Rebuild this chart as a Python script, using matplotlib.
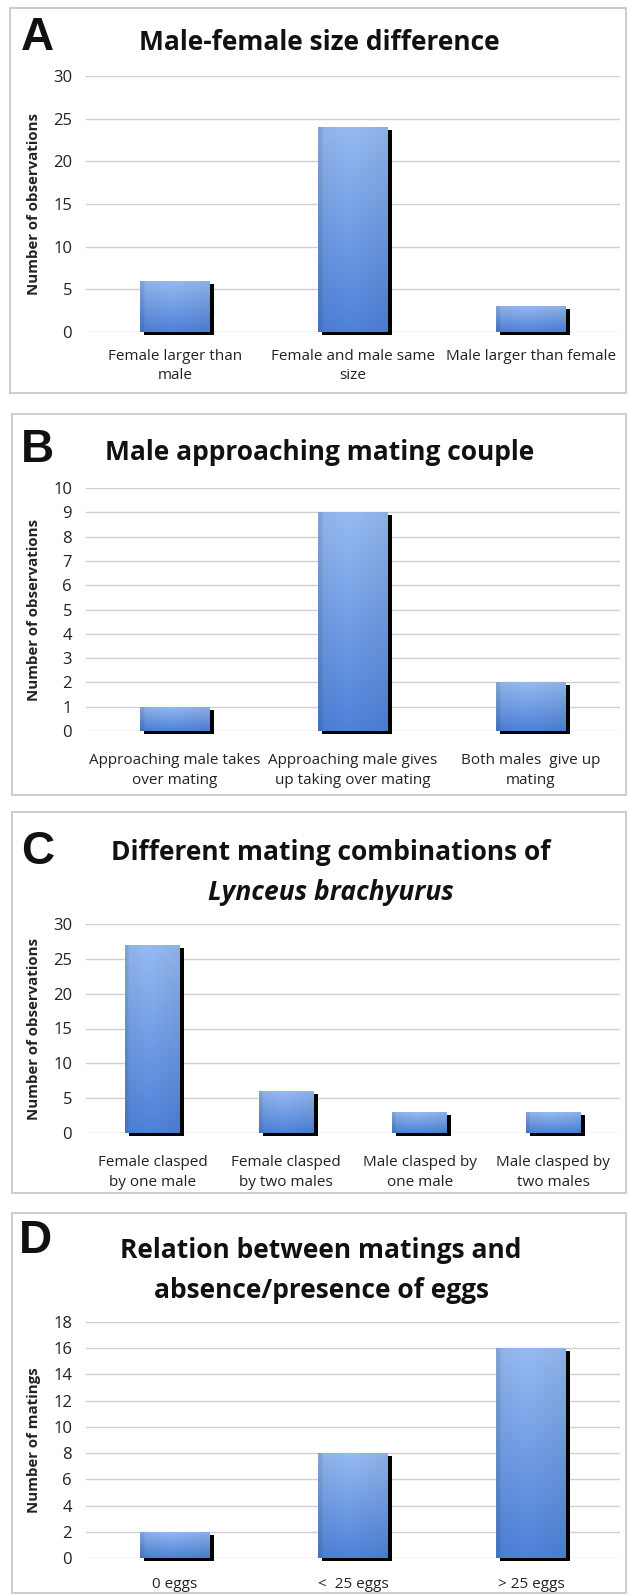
import numpy as np
import matplotlib
matplotlib.use("Agg")
import matplotlib.pyplot as plt
from matplotlib.patches import Rectangle
from matplotlib import transforms

# ---------------- data ----------------
a_title = "Male-female size difference"
a_cats = ["Female larger than\nmale", "Female and male same\nsize", "Male larger than female"]
a_vals = [6, 24, 3]
a_ticks = [0, 5, 10, 15, 20, 25, 30]
a_ylabel = "Number of observations"

b_title = "Male approaching mating couple"
b_cats = ["Approaching male takes\nover mating", "Approaching male gives\nup taking over mating",
          "Both males  give up\nmating"]
b_vals = [1, 9, 2]
b_ticks = [0, 1, 2, 3, 4, 5, 6, 7, 8, 9, 10]
b_ylabel = "Number of observations"

c_title1 = "Different mating combinations of"
c_title2 = "Lynceus brachyurus"
c_cats = ["Female clasped\nby one male", "Female clasped\nby two males",
          "Male clasped by\none male", "Male clasped by\ntwo males"]
c_vals = [27, 6, 3, 3]
c_ticks = [0, 5, 10, 15, 20, 25, 30]
c_ylabel = "Number of observations"

d_title1 = "Relation between matings and"
d_title2 = "absence/presence of eggs"
d_cats = ["0 eggs", "<  25 eggs", "> 25 eggs"]
d_vals = [2, 8, 16]
d_ticks = [0, 2, 4, 6, 8, 10, 12, 14, 16, 18]
d_ylabel = "Number of matings"

# ---------------- layout ----------------
W, H = 630, 1596
fig = plt.figure(figsize=(W / 100, H / 100), dpi=100)
fig.patch.set_facecolor("white")

FONT = "Open Sans"

def fx(x):
    return x / W

def fy(y):
    return 1 - y / H

def add_panel_box(l, r, t, b):
    fig.patches.append(Rectangle((fx(l), fy(b)), fx(r) - fx(l), fy(t) - fy(b),
                                 transform=fig.transFigure, facecolor="none",
                                 edgecolor="#c9c9c9", lw=1.3, zorder=-5))

# gradient for bars
gy = np.linspace(0, 1, 64)[:, None]
gx = np.linspace(0, 1, 64)[None, :]
top = np.array([150, 187, 242]) / 255
bot = np.array([78, 130, 218]) / 255
grad = top[None, None, :] * (1 - gy[..., None]) + bot[None, None, :] * gy[..., None]
edge = np.clip(1 - np.abs(gx - 0.45) * 1.1, 0, 1)[..., None]
grad = grad * (0.9 + 0.1 * edge)
grad[:, :4, :] = grad[:, :4, :] * 0.92
grad = np.clip(grad, 0, 1)

def draw_panel(letter, letter_xy, titles, title_x, title_ys, cats, vals, ticks,
               ylabel, box, axrect, width, label_pad):
    add_panel_box(*box)
    l, r, t, b = axrect
    ax = fig.add_axes([fx(l), fy(b), fx(r) - fx(l), fy(t) - fy(b)])
    ax.patch.set_alpha(0)
    n = len(cats)
    x = np.arange(n)
    for s in ax.spines.values():
        s.set_visible(False)
    ax.set_yticks(ticks)
    ax.set_yticklabels([str(v) for v in ticks], fontsize=12, family=FONT, color="#222222")
    ax.yaxis.grid(True, color="#d0d0d0", lw=1.0)
    ax.set_axisbelow(True)
    ax.tick_params(axis="y", length=0, pad=10)
    ax.set_xticks(x)
    ax.set_xticklabels(cats, fontsize=11, family=FONT, color="#222222", linespacing=1.4)
    ax.tick_params(axis="x", length=0, pad=label_pad)
    # shadow bars
    shadow = transforms.offset_copy(ax.transData, fig=fig, x=4, y=-3, units="dots")
    ax.bar(x, vals, width=width, color="black", transform=shadow, zorder=2, clip_on=False)
    bars = ax.bar(x, vals, width=width, color="none", zorder=3)
    for rect in bars:
        x0 = rect.get_x()
        im = ax.imshow(grad, extent=(x0, x0 + rect.get_width(), 0, rect.get_height()),
                       aspect="auto", zorder=3, interpolation="bicubic")
        im.set_clip_path(rect)
    ax.set_xlim(-0.5, n - 0.5)
    ax.set_ylim(ticks[0], ticks[-1])
    # y label
    fig.text(fx(34), fy((t + b) / 2), ylabel, rotation=90, ha="center", va="center",
             fontsize=10.8, fontweight="bold", family=FONT, color="#222222")
    # letter
    fig.text(fx(letter_xy[0]), fy(letter_xy[1]), letter, ha="left", va="center",
             fontsize=33, fontweight="bold", family="Liberation Sans", color="#111111")
    # titles
    for i, (tt, ty) in enumerate(zip(titles, title_ys)):
        style = "italic" if (letter == "C" and i == 1) else "normal"
        fig.text(fx(title_x), fy(ty), tt, ha="center", va="center", fontsize=19,
                 fontweight="bold", style=style, family=FONT, color="#111111")
    return ax

draw_panel("A", (21, 38), [a_title], 319, [42], a_cats, a_vals, a_ticks, a_ylabel,
           (10, 626, 8, 393), (86, 620, 76, 332), 0.39, 12)
draw_panel("B", (21, 450), [b_title], 320, [452], b_cats, b_vals, b_ticks, b_ylabel,
           (12, 626, 414, 795), (86, 620, 488, 731), 0.39, 16)
draw_panel("C", (21, 852), [c_title1, c_title2], 331, [852, 892], c_cats, c_vals, c_ticks,
           c_ylabel, (12, 626, 812, 1193), (86, 620, 924, 1133), 0.41, 16)
draw_panel("D", (19, 1241), [d_title1, d_title2], 321, [1250, 1290], d_cats, d_vals, d_ticks,
           d_ylabel, (12, 626, 1213, 1593), (86, 620, 1322, 1558), 0.39, 14)

fig.savefig("out.png", dpi=100, facecolor="white")
